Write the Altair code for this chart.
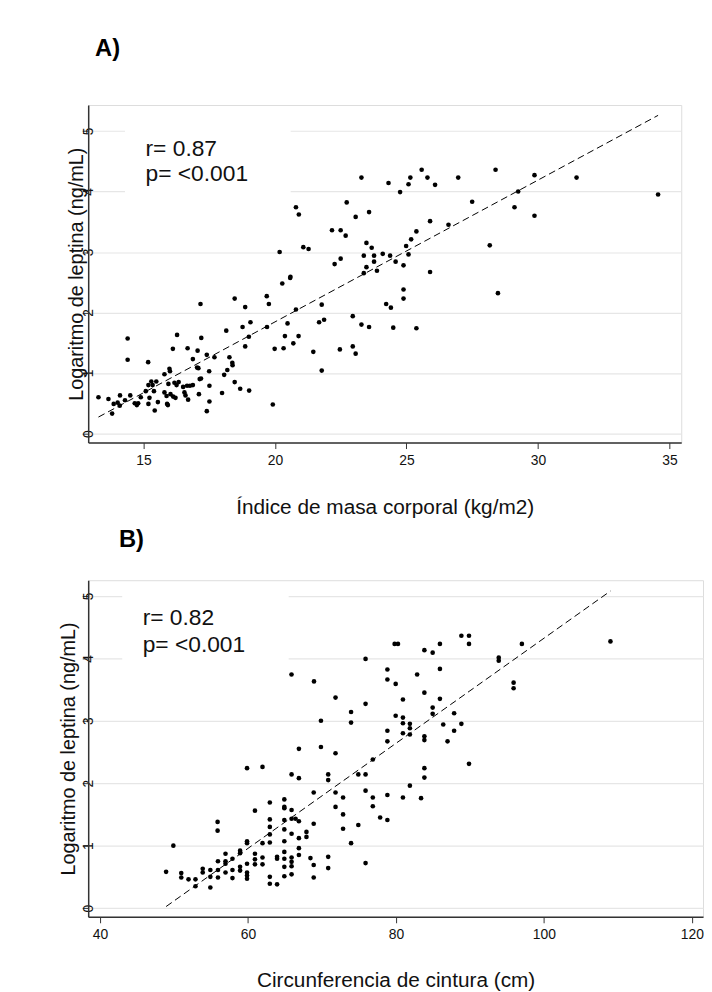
import altair as alt
import pandas as pd

# ---------------- Panel A: BMI vs log leptin ----------------
imc = [13.29, 13.67, 13.87, 13.81, 14.02, 14.11, 14.10, 14.30, 14.50, 14.40,
       14.40, 14.67, 14.75, 14.80, 14.90, 15.09, 15.18, 15.19, 15.23, 15.19,
       15.30, 15.35, 15.40, 15.49, 15.55, 15.43, 15.80, 15.99, 16.01, 15.80,
       15.88, 15.90, 15.93, 15.95, 16.03, 16.13, 16.22, 16.18, 16.26, 16.34,
       16.12, 16.28, 16.51, 16.56, 16.60, 16.66, 16.70, 16.77, 16.88, 16.68,
       16.88, 17.06, 17.04, 17.09, 17.14, 17.19, 17.11, 17.20, 17.17, 17.41,
       17.41, 17.50, 17.51, 17.51, 17.70, 17.99, 18.07, 18.15, 18.19, 18.27,
       18.38, 18.39, 18.47, 18.47, 18.68, 18.77, 18.87, 18.87, 19.02, 19.01,
       19.07, 19.69, 19.70, 19.77, 19.92, 19.99, 20.18, 20.28, 20.33, 20.38,
       20.48, 20.58, 20.59, 20.70, 20.80, 20.90, 21.08, 21.28, 21.46, 20.80,
       20.91,
       21.78, 21.68, 21.87, 21.78, 22.17, 22.50, 22.69, 22.27, 22.50, 22.73,
       23.07, 23.29, 23.58, 22.96, 23.29, 23.58, 22.47, 22.96, 23.07, 23.48,
       23.68, 23.38, 23.77, 24.10, 24.38, 23.48, 23.77, 23.38, 23.88, 24.59,
       24.89, 24.23, 24.41, 24.50, 24.89, 24.89, 25.38, 24.32, 24.76, 25.08,
       25.15, 25.58, 25.80, 26.09, 24.99, 25.08, 25.18, 25.38, 25.90, 25.90,
       26.60, 26.97, 27.50, 28.17, 28.39, 28.48, 29.11, 29.25, 29.87, 29.87,
       31.47, 34.57]
leptina_a = [0.60, 0.57, 0.49, 0.33, 0.51, 0.63, 0.46, 0.55, 0.63, 1.57,
             1.22, 0.50, 0.47, 0.50, 0.60, 0.70, 1.18, 0.80, 0.59, 0.49,
             0.86, 0.80, 0.70, 0.86, 0.52, 0.38, 0.98, 1.07, 1.03, 0.68,
             0.62, 0.49, 0.47, 0.82, 0.65, 0.61, 0.59, 0.84, 0.80, 0.85,
             1.40, 1.63, 0.77, 0.68, 0.63, 0.79, 0.56, 0.79, 0.80, 1.41,
             1.23, 1.37, 1.09, 1.08, 0.90, 0.91, 0.65, 1.58, 2.14, 1.30,
             0.37, 1.03, 0.79, 0.53, 1.26, 0.67, 0.97, 1.70, 1.05, 1.26,
             1.17, 1.13, 2.23, 0.85, 0.74, 1.76, 1.44, 2.09, 0.71, 1.60,
             1.84, 2.27, 1.76, 2.14, 0.48, 1.40, 3.00, 2.48, 1.41, 1.61,
             1.82, 2.57, 2.59, 1.49, 2.05, 1.61, 3.08, 3.05, 1.35, 3.74,
             3.62,
             2.13, 1.84, 1.88, 1.04, 3.36, 3.36, 3.27, 2.80, 2.89, 3.82,
             3.58, 4.23, 3.66, 1.94, 1.80, 1.76, 1.39, 1.44, 1.32, 3.15,
             3.07, 2.94, 2.94, 2.97, 2.94, 2.75, 2.84, 2.65, 2.69, 2.84,
             2.78, 2.14, 2.08, 1.75, 2.38, 2.23, 1.74, 4.14, 3.99, 4.12,
             4.23, 4.36, 4.23, 4.11, 3.10, 2.96, 3.21, 3.34, 3.51, 2.67,
             3.45, 4.23, 3.83, 3.11, 4.36, 2.32, 3.74, 4.00, 4.27, 3.60,
             4.23, 3.95]

# ---------------- Panel B: waist vs log leptin ----------------
cintura = [48.93, 49.91, 50.98, 50.98, 51.96, 52.90, 52.90, 53.88, 53.88, 54.91,
           54.91, 54.91, 55.89, 55.89, 55.94, 55.94, 55.94, 56.96, 56.96, 56.96,
           56.96, 57.90, 57.90, 57.90, 58.93, 58.93, 58.93, 58.93, 59.87, 59.87,
           59.87, 59.87, 59.87, 59.87, 59.87, 60.94, 60.94, 60.94, 60.94, 61.96,
           61.96, 61.96, 61.96, 62.95, 62.95, 62.95, 62.95, 62.95, 62.95, 62.95,
           63.93, 63.93, 63.93, 64.91, 64.91, 64.91, 64.91, 64.91, 64.91, 64.91,
           64.91, 64.91, 64.91, 65.89, 65.89, 65.89, 65.89, 65.89, 65.89, 65.89,
           65.89, 66.88, 66.88, 66.43, 66.88, 66.88, 66.88, 66.88, 67.90, 67.90,
           68.44, 68.88, 68.88, 68.88, 68.88, 65.88,
           68.92, 69.86, 69.86, 70.84, 70.84, 70.84, 70.84, 71.83, 71.83, 71.83,
           71.83, 72.85, 72.85, 72.85, 73.93, 73.93, 73.93, 74.91, 74.91, 75.89,
           75.89, 75.89, 75.89, 75.89, 76.87, 76.87, 76.87, 77.86, 78.84, 78.84,
           78.84, 78.84, 78.84, 78.84, 79.82, 80.27, 79.96, 79.96, 80.94, 80.94,
           80.94, 80.94, 80.94, 81.88, 81.88, 81.88, 81.88, 82.86, 83.39, 83.84,
           83.84, 83.84, 83.84, 83.84, 83.84, 84.96, 84.96, 84.96, 85.94, 85.94,
           85.94, 86.39, 86.97, 87.86, 87.86, 88.84, 88.84, 89.87, 89.87, 89.87,
           93.89, 93.89, 95.90, 95.90, 97.02, 108.99]
leptina_b = [0.58, 1.00, 0.56, 0.49, 0.46, 0.46, 0.35, 0.63, 0.57, 0.61,
             0.50, 0.33, 1.38, 1.24, 0.75, 0.61, 0.49, 0.87, 0.75, 0.71,
             0.57, 0.79, 0.61, 0.48, 0.92, 0.88, 0.66, 0.60, 2.24, 1.07,
             1.04, 0.71, 0.57, 0.52, 0.47, 1.56, 0.87, 0.78, 0.70, 2.26,
             1.04, 0.81, 0.70, 1.69, 1.42, 1.30, 1.18, 1.05, 0.50, 0.39,
             0.82, 0.79, 0.38, 1.74, 1.62, 1.60, 1.41, 1.26, 1.07, 0.90,
             0.79, 0.66, 0.51, 2.14, 1.57, 1.43, 1.19, 0.81, 0.74, 0.67,
             0.54, 2.55, 2.08, 1.43, 1.39, 1.12, 0.96, 0.85, 1.22, 1.14,
             0.80, 1.85, 1.35, 0.69, 0.49, 3.74,
             3.63, 3.00, 2.58, 2.14, 2.05, 0.82, 0.64, 3.37, 2.48, 1.85,
             1.62, 1.77, 1.50, 1.27, 3.14, 2.97, 1.04, 2.14, 1.33, 3.99,
             3.27, 2.14, 1.88, 0.72, 2.38, 1.77, 1.63, 1.45, 3.82, 3.66,
             2.84, 2.67, 1.81, 1.41, 4.23, 4.23, 3.59, 3.08, 3.34, 3.05,
             2.96, 2.80, 1.77, 2.95, 2.88, 2.78, 1.96, 3.74, 1.76, 4.13,
             3.45, 2.75, 2.69, 2.24, 2.09, 4.09, 3.21, 3.11, 4.23, 3.83,
             3.35, 2.94, 2.67, 3.12, 2.84, 4.36, 2.95, 4.36, 4.23, 2.31,
             4.01, 3.96, 3.61, 3.52, 4.23, 4.27]

panel_titles = ["A)", "B)"]
x_titles = ["Índice de masa corporal (kg/m2)", "Circunferencia de cintura (cm)"]
y_title = "Logaritmo de leptina (ng/mL)"
stats_a = ["r= 0.87", "p= <0.001"]
stats_b = ["r= 0.82", "p= <0.001"]
x_ticks_a = [15, 20, 25, 30, 35]
x_ticks_b = [40, 60, 80, 100, 120]
y_ticks = [0, 1, 2, 3, 4, 5]

FONT = "Liberation Sans"


def panel(xs, ys, title, xtitle, stats, xticks, xdom, ydom, w, h,
          title_dx, title_offset, ytitle_x, xtitle_pad, box, stat_pos):
    df = pd.DataFrame({"x": xs, "y": ys})
    xscale = alt.Scale(domain=xdom, nice=False, zero=False)
    yscale = alt.Scale(domain=ydom, nice=False, zero=False)
    xaxis = alt.Axis(values=xticks, title=xtitle, grid=False, format="d",
                     labelFontSize=14, labelFont=FONT, labelColor="#111",
                     labelPadding=5, tickSize=6, tickColor="#333",
                     domainColor="#333", domainWidth=1.5,
                     titleFont=FONT, titleFontSize=21, titleFontWeight="normal",
                     titleColor="#111", titlePadding=xtitle_pad)
    yaxis = alt.Axis(values=y_ticks, title=y_title, grid=True, format="d",
                     gridColor="#e6e6e6", gridWidth=1.2,
                     labelAngle=270, labelAlign="center", labelBaseline="middle",
                     labelPadding=-6, labelFontSize=14, labelFont=FONT,
                     labelColor="#111", tickSize=6, tickColor="#333",
                     domainColor="#333", domainWidth=1.5,
                     titleFont=FONT, titleFontSize=20, titleFontWeight="normal",
                     titleColor="#111", titleAngle=270, titleBaseline="bottom",
                     titleAlign="center", titleX=ytitle_x, titleY=h / 2)
    base = alt.Chart(df)
    pts = base.mark_circle(size=22, color="black", opacity=1).encode(
        x=alt.X("x:Q", scale=xscale, axis=xaxis),
        y=alt.Y("y:Q", scale=yscale, axis=yaxis),
    )
    fit = base.transform_regression("x", "y").mark_line(
        color="black", strokeDash=[7, 4], strokeWidth=1
    ).encode(x=alt.X("x:Q", scale=xscale), y=alt.Y("y:Q", scale=yscale))
    one = alt.Data(values=[{"k": 0}])
    bg = alt.Chart(one).mark_rect(color="white").encode(
        x=alt.datum(box[0], scale=xscale), x2=alt.datum(box[1]),
        y=alt.datum(box[2], scale=yscale), y2=alt.datum(box[3]),
    )
    txt1 = alt.Chart(one).mark_text(
        align="left", baseline="alphabetic", font=FONT, fontSize=23, color="#111"
    ).encode(x=alt.datum(stat_pos[0], scale=xscale),
             y=alt.datum(stat_pos[1], scale=yscale), text=alt.value(stats[0]))
    txt2 = alt.Chart(one).mark_text(
        align="left", baseline="alphabetic", font=FONT, fontSize=23, color="#111"
    ).encode(x=alt.datum(stat_pos[0], scale=xscale),
             y=alt.datum(stat_pos[2], scale=yscale), text=alt.value(stats[1]))
    return alt.layer(pts, bg, fit, txt1, txt2).properties(
        width=w, height=h,
        title=alt.TitleParams(title, anchor="start", font=FONT, fontSize=24,
                              fontWeight="bold", color="#000", dx=title_dx,
                              offset=title_offset, baseline="bottom"),
    )


chart_a = panel(imc, leptina_a, panel_titles[0], x_titles[0], stats_a, x_ticks_a,
                [12.9, 35.45], [-0.15, 5.43], 599, 341,
                29, 20, -2, 30, [14.3, 20.6, 3.85, 5.3], [15.08, 4.59, 4.17])
chart_b = panel(cintura, leptina_b, panel_titles[1], x_titles[1], stats_b, x_ticks_b,
                [38.4, 121.5], [-0.14, 5.25], 621, 340,
                61, 5, -10, 28, [43.0, 65.5, 3.8, 5.15], [45.76, 4.53, 4.10])

chart = alt.vconcat(chart_a, chart_b, spacing=8).properties(
    padding={"left": 50, "top": 24, "right": 0, "bottom": 0}
).configure_view(stroke=None).configure(background="white")

chart.save("out.html", embed_options={"renderer": "svg", "actions": False})
